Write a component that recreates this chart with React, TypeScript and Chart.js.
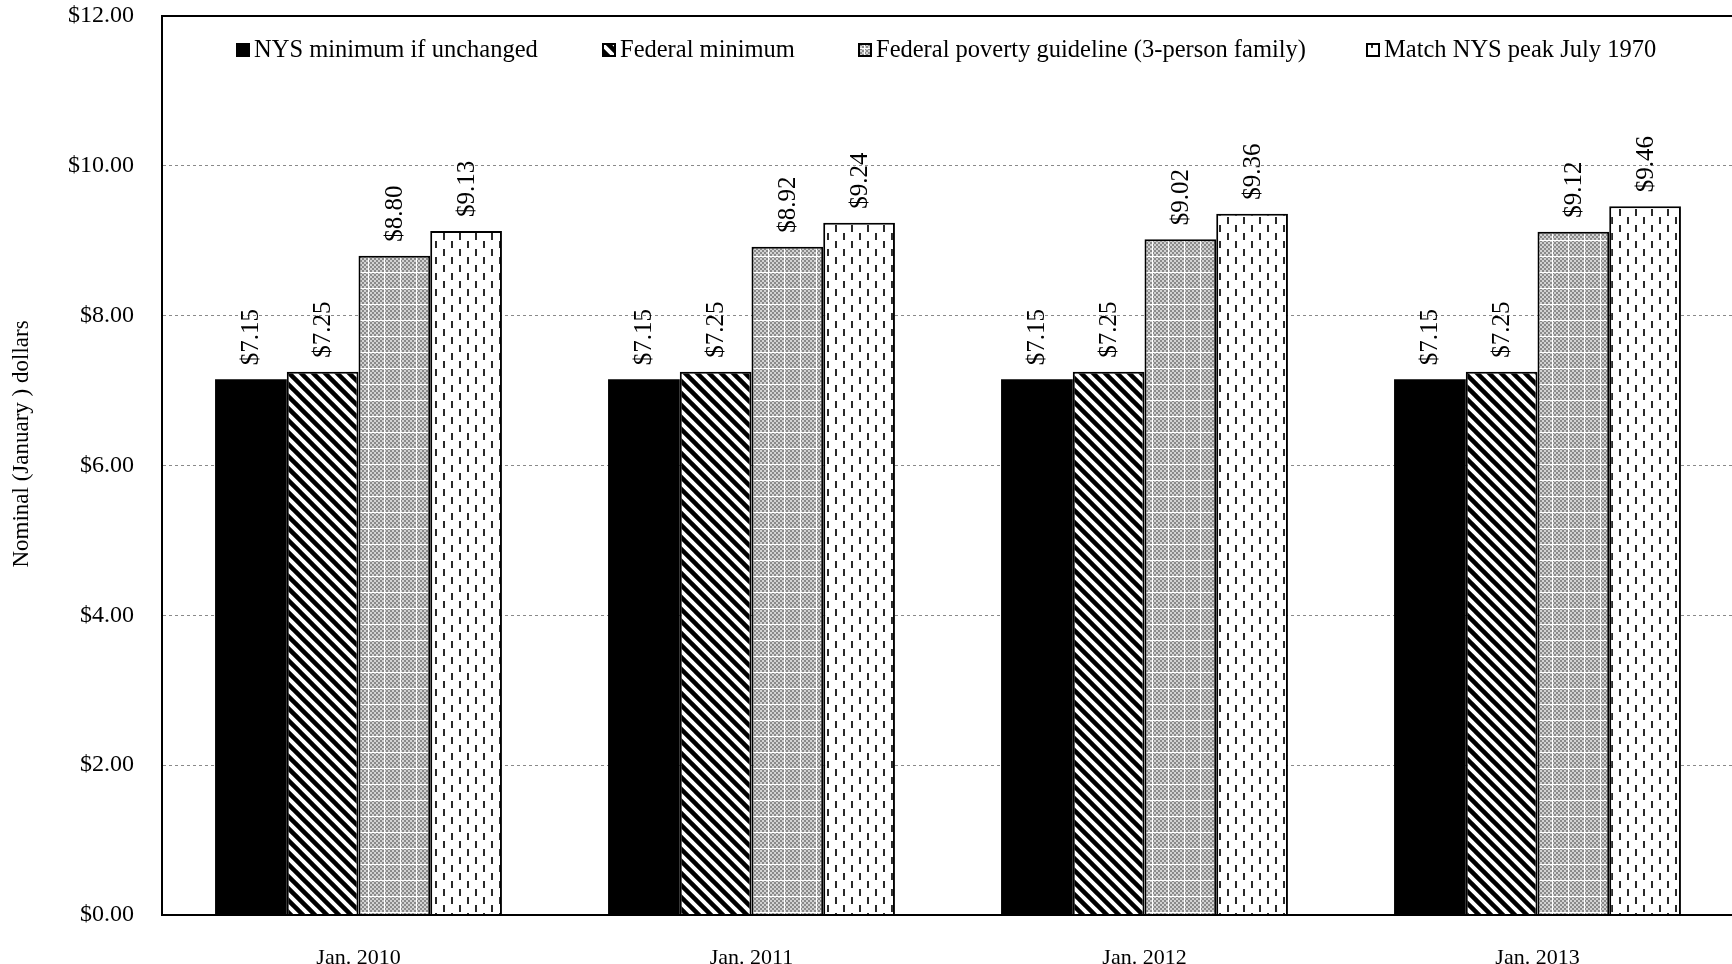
import React, { useEffect, useRef } from "react";
import { Chart, registerables } from "chart.js";

Chart.register(...registerables);

const categories = ["Jan. 2010", "Jan. 2011", "Jan. 2012", "Jan. 2013"];
const nysUnchanged = [7.15, 7.15, 7.15, 7.15];
const federalMin = [7.25, 7.25, 7.25, 7.25];
const povertyGuideline = [8.8, 8.92, 9.02, 9.12];
const matchPeak = [9.13, 9.24, 9.36, 9.46];
const seriesNames = [
  "NYS minimum if unchanged",
  "Federal minimum",
  "Federal poverty guideline (3-person family)",
  "Match NYS peak July 1970",
];
const yTicks = [0, 2, 4, 6, 8, 10, 12];
const yTitle = "Nominal (January ) dollars";

const FONT = "'Liberation Serif', 'Times New Roman', serif";

function makePattern(w: number, h: number, draw: (g: CanvasRenderingContext2D) => void) {
  const c = document.createElement("canvas");
  c.width = w;
  c.height = h;
  const g = c.getContext("2d")!;
  draw(g);
  return g.createPattern(c, "repeat") as CanvasPattern;
}

function buildPatterns() {
  const solid = "#000000";
  const stripes = makePattern(12, 12, (g) => {
    g.fillStyle = "#fff";
    g.fillRect(0, 0, 12, 12);
    g.strokeStyle = "#000";
    g.lineWidth = 4.5;
    for (let k = -1; k <= 1; k++) {
      g.beginPath();
      g.moveTo(k * 12 - 2, -2);
      g.lineTo(k * 12 + 14, 14);
      g.stroke();
    }
  });
  const dots = makePattern(16, 16, (g) => {
    g.fillStyle = "#d2d2d2";
    g.fillRect(0, 0, 16, 16);
    g.fillStyle = "#8a8a8a";
    for (let bx = 0; bx < 8; bx++) {
      for (let by = 0; by < 8; by++) {
        if ((bx + by) % 2 === 0) g.fillRect(bx * 2, by * 2, 2, 2);
      }
    }
    g.fillStyle = "#ffffff";
    g.fillRect(0, 0, 16, 1);
    g.fillRect(0, 0, 1, 16);
  });
  const dashes = makePattern(16, 16, (g) => {
    g.fillStyle = "#fff";
    g.fillRect(0, 0, 16, 16);
    g.fillStyle = "#2a2a2a";
    g.fillRect(3, 1, 2, 7);
    g.fillRect(11, 9, 2, 7);
  });
  return [solid, stripes, dots, dashes];
}

export default function App() {
  const canvasRef = useRef<HTMLCanvasElement | null>(null);

  useEffect(() => {
    const canvas = canvasRef.current;
    if (!canvas) return;
    const fills = buildPatterns();
    const seriesValues = [nysUnchanged, federalMin, povertyGuideline, matchPeak];

    const framePlugin = {
      id: "frameAndText",
      afterDatasetsDraw(chart: any) {
        const ctx = chart.ctx as CanvasRenderingContext2D;
        ctx.save();
        ctx.fillStyle = "#000";
        ctx.font = `25px ${FONT}`;
        ctx.textAlign = "left";
        ctx.textBaseline = "middle";
        seriesValues.forEach((vals, di) => {
          const meta = chart.getDatasetMeta(di);
          meta.data.forEach((el: any, i: number) => {
            ctx.save();
            ctx.translate(el.x + 1, el.y - 14);
            ctx.rotate(-Math.PI / 2);
            ctx.fillText("$" + vals[i].toFixed(2), 0, 0);
            ctx.restore();
          });
        });
        ctx.restore();
      },
      afterDraw(chart: any) {
        const ctx = chart.ctx as CanvasRenderingContext2D;
        const a = chart.chartArea;
        ctx.save();
        ctx.strokeStyle = "#000";
        ctx.lineWidth = 2;
        ctx.strokeRect(a.left, a.top, a.right - a.left, a.bottom - a.top);

        // legend
        const boxX = [237, 603, 859, 1367];
        const ly = 50;
        ctx.font = `24.5px ${FONT}`;
        ctx.textBaseline = "middle";
        ctx.textAlign = "left";
        seriesNames.forEach((name, i) => {
          const x = boxX[i];
          ctx.fillStyle = fills[i] as any;
          ctx.fillRect(x, ly - 6, 12, 12);
          ctx.lineWidth = 2;
          ctx.strokeStyle = "#000";
          ctx.strokeRect(x, ly - 6, 12, 12);
          ctx.fillStyle = "#000";
          ctx.fillText(name, x + 17, ly + 1);
        });

        // y title
        ctx.save();
        ctx.translate(22, 444);
        ctx.rotate(-Math.PI / 2);
        ctx.textAlign = "center";
        ctx.textBaseline = "middle";
        ctx.font = `23px ${FONT}`;
        ctx.fillText(yTitle, 0, 0);
        ctx.restore();
        ctx.restore();
      },
    };

    const chart = new Chart(canvas, {
      type: "bar",
      data: {
        labels: categories,
        datasets: seriesValues.map((vals, i) => ({
          label: seriesNames[i],
          data: vals,
          backgroundColor: fills[i] as any,
          borderColor: "#000",
          borderWidth: i === 0 ? 0 : 2,
          barPercentage: 1,
          categoryPercentage: 0.73,
        })),
      },
      options: {
        responsive: true,
        maintainAspectRatio: false,
        animation: false,
        layout: { padding: { left: 0, top: 16, right: 6, bottom: 0 } },
        plugins: {
          legend: { display: false },
          tooltip: { enabled: false },
        },
        scales: {
          x: {
            grid: { display: false },
            border: { display: true, color: "#000", width: 2 },
            ticks: {
              color: "#000",
              font: { family: FONT, size: 22 },
              padding: 22,
              maxRotation: 0,
            },
            afterFit: (s: any) => {
              s.height = 49;
              s.paddingLeft = 0;
              s.paddingRight = 0;
            },
          },
          y: {
            min: 0,
            max: 12,
            afterBuildTicks: (s: any) => {
              s.ticks = yTicks.map((v) => ({ value: v }));
            },
            ticks: {
              color: "#000",
              font: { family: FONT, size: 24 },
              padding: 28,
              callback: (v: any) => "$" + Number(v).toFixed(2),
            },
            grid: { color: "#8a8a8a", lineWidth: 1, drawTicks: false },
            border: { display: true, color: "#000", width: 2, dash: [3, 3] },
            afterFit: (s: any) => {
              s.width = 162;
              s.paddingTop = 0;
              s.paddingBottom = 0;
            },
          },
        },
      },
      plugins: [framePlugin],
    });
    return () => chart.destroy();
  }, []);

  return (
    <div
      style={{
        position: "fixed",
        left: 0,
        top: 0,
        width: 1732,
        height: 964,
        overflow: "hidden",
        background: "#fff",
      }}
    >
      <div style={{ position: "absolute", left: 0, top: 0, width: 1740, height: 964 }}>
        <canvas ref={canvasRef} />
      </div>
    </div>
  );
}
